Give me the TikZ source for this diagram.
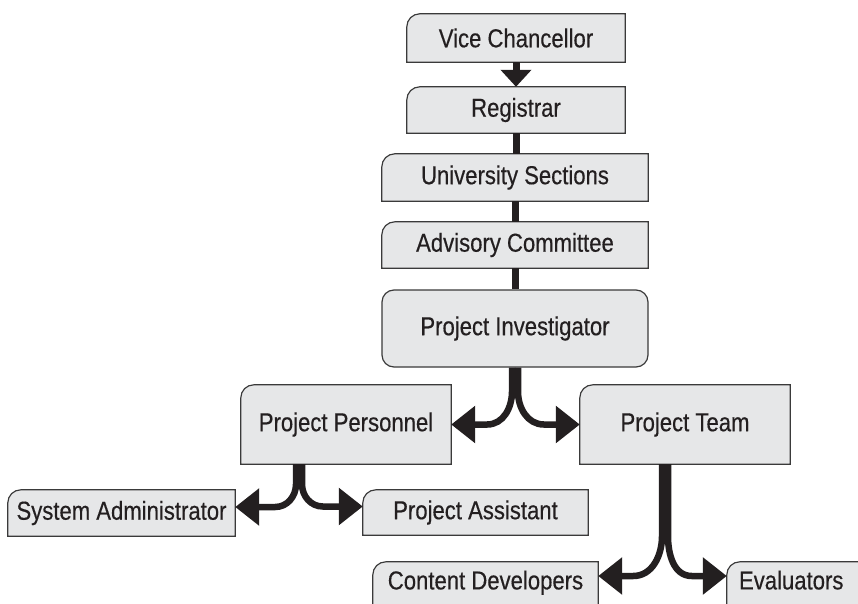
\documentclass[tikz,border=0pt]{standalone}
\usepackage{fontspec}
\setmainfont[FakeStretch=0.85,FakeBold=0.4]{Liberation Sans}
\usetikzlibrary{arrows.meta}

\definecolor{boxfill}{HTML}{E6E7E8}
\definecolor{boxline}{HTML}{3A3A3A}
\definecolor{ink}{HTML}{231F20}

\pgfdeclarelayer{back}
\pgfsetlayers{back,main}

% outline with only the top left corner rounded
\newcommand{\tlround}[1]{%
  \begin{pgfonlayer}{back}
    \draw[boxedge] (#1.south west) -- ([yshift=-13pt]#1.north west)
      arc[start angle=180,end angle=90,radius=13pt] -- (#1.north east)
      -- (#1.south east) -- cycle;
  \end{pgfonlayer}}

\begin{document}
\begin{tikzpicture}[x=1pt,y=1pt,
    box/.style={inner sep=0pt,text=ink,font=\fontsize{26}{30}\selectfont},
    boxedge/.style={fill=boxfill,draw=boxline,line width=1.2pt},
    stem/.style={ink,line width=7pt},
    branch/.style={ink,line width=6.5pt,-{Triangle[width=36pt,length=24pt]}}]
    \useasboundingbox (0,0) rectangle (858,-604);
    \clip (0,0) rectangle (858,-604);

    % upper column
    \node[box,minimum width=218pt,minimum height=48pt] (vc) at (516,-38) {Vice Chancellor};
    \node[box,minimum width=218pt,minimum height=46pt] (reg) at (516,-110) {Registrar};
    \node[box,minimum width=266pt,minimum height=47pt] (sec) at (515,-177.5) {University Sections};
    \node[box,minimum width=266pt,minimum height=46pt] (adv) at (515,-245) {Advisory Committee};
    \node[box,boxedge,rounded corners=12pt,minimum width=266pt,minimum height=77pt] (pi) at (515,-328.5) {Project Investigator};
    \foreach \n in {vc,reg,sec,adv} \tlround{\n};

    % middle row
    \node[box,minimum width=210pt,minimum height=79pt] (pers) at (346,-424.5) {Project Personnel};
    \node[box,minimum width=210pt,minimum height=79pt] (team) at (685,-424.5) {Project Team};

    % lower rows
    \node[box,minimum width=227pt,minimum height=46pt] (sys) at (121.5,-513) {System Administrator};
    \node[box,minimum width=225pt,minimum height=45pt] (asst) at (475.5,-512.5) {Project Assistant};
    \node[box,text depth=14pt,minimum width=225pt,minimum height=50pt] (cont) at (485.5,-587) {Content Developers};
    \node[box,text depth=14pt,minimum width=150pt,minimum height=50pt,text width=150pt,align=left] (eval) at (802,-587) {\hspace{12pt}Evaluators};
    \foreach \n in {pers,team,sys,asst,cont,eval} \tlround{\n};

    % connectors
    \draw[stem,-{Triangle[width=30pt,length=17pt]}] (vc.south) -- (reg.north);
    \foreach \a/\b in {reg/sec,sec/adv,adv/pi}
        \draw[stem] (\a.south) -- (\a.south |- \b.north);

    \draw[branch] ([xshift=-3pt]pi.south) -- ++(0,-24) to[out=-90,in=0] ([xshift=36pt]pers.east) -- (pers.east);
    \draw[branch] ([xshift=3pt]pi.south) -- ++(0,-24) to[out=-90,in=180] ([xshift=-36pt]team.west) -- (team.west);

    \draw[branch] ([xshift=-50pt]pers.south) -- ++(0,-20) to[out=-90,in=0] ([xshift=40pt,yshift=6pt]sys.east) -- ([yshift=6pt]sys.east);
    \draw[branch] ([xshift=-44pt]pers.south) -- ++(0,-20) to[out=-90,in=180] ([xshift=-40pt,yshift=6pt]asst.west) -- ([yshift=6pt]asst.west);

    \draw[branch] ([xshift=-23pt]team.south) -- ++(0,-72) to[out=-90,in=0] ([xshift=35pt,yshift=11pt]cont.east) -- ([yshift=11pt]cont.east);
    \draw[branch] ([xshift=-17pt]team.south) -- ++(0,-72) to[out=-90,in=180] ([xshift=-35pt,yshift=11pt]eval.west) -- ([yshift=11pt]eval.west);
\end{tikzpicture}
\end{document}
